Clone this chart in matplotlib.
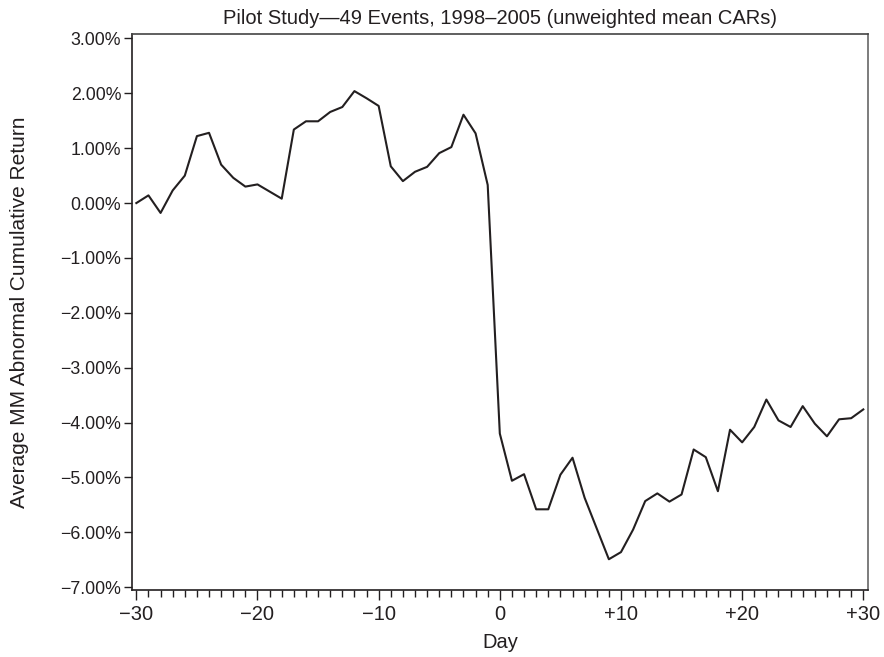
import matplotlib
matplotlib.use("Agg")
import matplotlib.pyplot as plt
from matplotlib.ticker import MultipleLocator, FuncFormatter

plt.rcParams['font.family'] = ['Liberation Sans', 'DejaVu Sans']

days = list(range(-30, 31))
car = [0.00, 0.14, -0.18, 0.23, 0.50, 1.22, 1.28, 0.70, 0.46, 0.30,
       0.34, 0.21, 0.08, 1.34, 1.49, 1.49, 1.66, 1.75, 2.04, 1.91,
       1.77, 0.67, 0.40, 0.57, 0.66, 0.91, 1.02, 1.61, 1.27, 0.33,
       -4.20, -5.06, -4.94, -5.58, -5.58, -4.95, -4.64, -5.37, -5.93, -6.49,
       -6.36, -5.95, -5.43, -5.29, -5.44, -5.31, -4.49, -4.63, -5.25, -4.13,
       -4.36, -4.08, -3.58, -3.96, -4.08, -3.70, -4.02, -4.25, -3.94, -3.92,
       -3.76]
title = "Pilot Study\u201449 Events, 1998\u20132005 (unweighted mean CARs)"
xlabel = "Day"
ylabel = "Average MM Abnormal Cumulative Return"

fig = plt.figure(figsize=(8.84, 6.57), dpi=100)
ax = fig.add_axes([0.1497, 0.102, 0.9822 - 0.1497, 0.9482 - 0.102])
ax.plot(days, car, color='#231f20', lw=1.5)

ax.set_xlim(-30.33, 30.41)
ax.set_ylim(-7.05, 3.08)
ax.xaxis.set_major_locator(MultipleLocator(10))
ax.xaxis.set_minor_locator(MultipleLocator(1))
ax.yaxis.set_major_locator(MultipleLocator(1))

def xfmt(v, p):
    v = int(round(v))
    if v > 0:
        return f"+{v}"
    if v < 0:
        return f"\u2212{abs(v)}"
    return "0"

def yfmt(v, p):
    s = f"{abs(v):.2f}%"
    return ("\u2212" + s) if v < -1e-9 else s

ax.xaxis.set_major_formatter(FuncFormatter(xfmt))
ax.yaxis.set_major_formatter(FuncFormatter(yfmt))

ax.tick_params(axis='x', which='major', length=7, width=1, direction='out', labelsize=14.5, pad=4, colors='#231f20')
ax.tick_params(axis='x', which='minor', length=5, width=1, direction='out', colors='#231f20')
ax.tick_params(axis='y', which='major', length=6, width=1, direction='out', labelsize=12.8, pad=2, colors='#231f20')

for s in ['left', 'bottom']:
    ax.spines[s].set_color('#231f20')
    ax.spines[s].set_linewidth(1.2)
ax.spines['top'].set_color('#444444')
ax.spines['right'].set_color('#666666')
ax.spines['top'].set_linewidth(1.2)
ax.spines['right'].set_linewidth(1.2)

ax.set_title(title, fontsize=14.5, color='#231f20', pad=7)
ax.set_xlabel(xlabel, fontsize=14.5, color='#231f20', labelpad=6)
ax.set_ylabel(ylabel, fontsize=15, color='#231f20')
ax.yaxis.set_label_coords(-0.14, 0.5)

fig.savefig("out.png", dpi=100)
